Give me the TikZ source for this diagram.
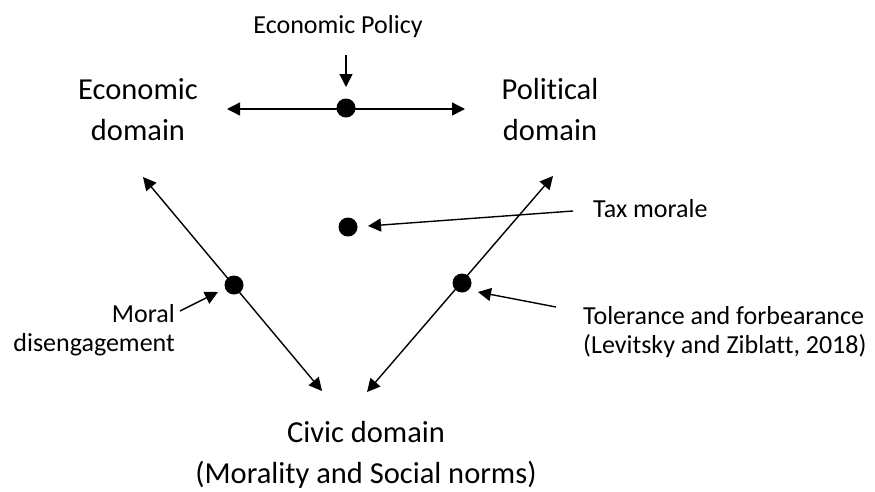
\documentclass[tikz,border=0pt]{standalone}
\usepackage{fontspec}
\setmainfont{Carlito}[Ligatures={NoCommon}]
\usetikzlibrary{arrows.meta}
\begin{document}
\begin{tikzpicture}[x=1pt,y=-1pt,
  dot/.style={circle,fill=black,minimum size=19pt,inner sep=0pt},
  big/.style={font=\fontsize{30.5}{41}\selectfont,align=center,inner sep=0pt,anchor=base},
  small/.style={font=\fontsize{26}{29}\selectfont,inner sep=0pt,anchor=base},
  conn/.style={line width=1.4pt,-{Triangle[length=13pt,width=13pt]}},
  conn2/.style={line width=1.4pt,{Triangle[length=13pt,width=13pt]}-{Triangle[length=13pt,width=13pt]}}]
\useasboundingbox (0,0) rectangle (875,491);
% labels (base anchor = baseline of the last line)
\node[small] (policy) at (338,33) {Economic Policy};
\node[big] (econ) at (138,140) {Economic\\domain};
\node[big] (pol) at (550,140) {Political\\domain};
\node[big] (civic) at (366,483) {Civic domain\\(Morality and Social norms)};
\node[small,anchor=base west] (tax) at (593,217) {Tax morale};
\node[small,anchor=base east,align=right] (moral) at (175,351) {Moral\\disengagement};
\node[small,anchor=base west,align=left] (toler) at (583,353) {Tolerance and forbearance\\(Levitsky and Ziblatt, 2018)};
% dots
\node[dot] (d1) at (346,108) {};
\node[dot] (d2) at (348,227) {};
\node[dot] (d3) at (234,285) {};
\node[dot] (d4) at (462,283) {};
% arrow ends
\coordinate (pA) at (346,55);
\coordinate (pB) at (346,87);
\coordinate (h1) at (227,109);
\coordinate (h2) at (465,109);
\coordinate (l1) at (143,177);
\coordinate (l2) at (322,391);
\coordinate (r1) at (553,176);
\coordinate (r2) at (367,392);
\coordinate (t1) at (573,211);
\coordinate (t2) at (368,226);
\coordinate (m1) at (180,311);
\coordinate (m2) at (218,292);
\coordinate (o1) at (556,307);
\coordinate (o2) at (478,292);
% connectors
\draw[conn] (pA) -- (pB);
\draw[conn2] (h1) -- (h2);
\draw[conn2] (l1) -- (l2);
\draw[conn2] (r1) -- (r2);
\draw[conn] (t1) -- (t2);
\draw[conn] (m1) -- (m2);
\draw[conn] (o1) -- (o2);
\end{tikzpicture}
\end{document}
